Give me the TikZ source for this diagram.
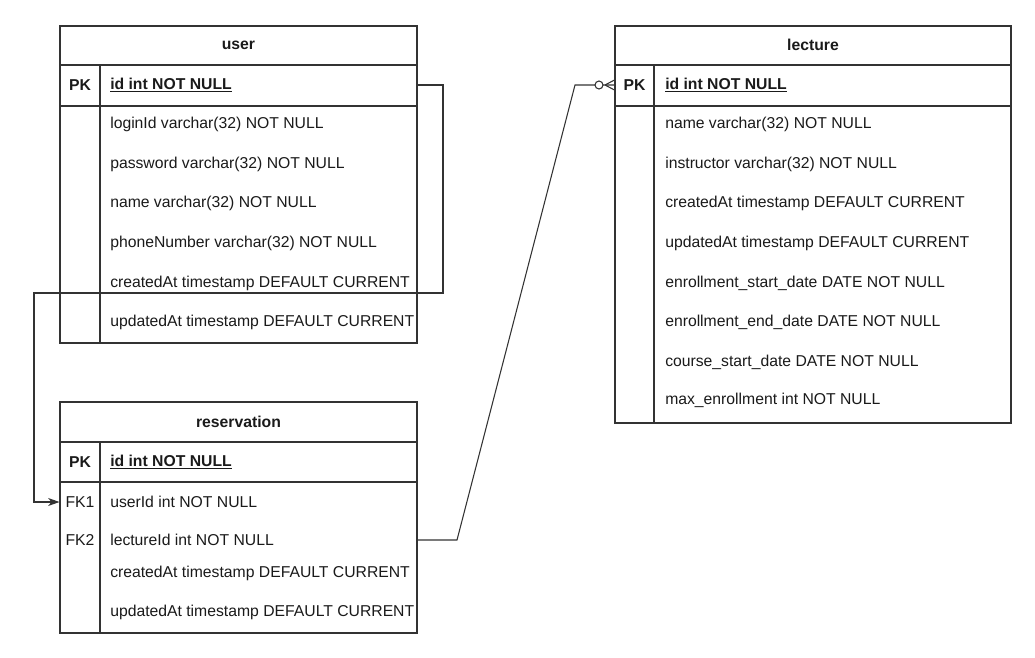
\documentclass[tikz,border=0pt]{standalone}
\usepackage{fontspec}
\setmainfont{Liberation Sans}
\usetikzlibrary{arrows.meta}
\definecolor{lc}{HTML}{333333}
\definecolor{tc}{HTML}{1A1A1A}
\begin{document}
\begin{tikzpicture}[x=0.75pt,y=-0.75pt,
  tbl/.style={draw=lc, line width=0.8pt, inner sep=0pt, fill=white},
  gridln/.style={draw=lc, line width=0.8pt},
  rowtxt/.style={anchor=west, inner sep=0pt, text=tc, font=\fontsize{11.8}{14}\selectfont},
  keytxt/.style={inner sep=0pt, text=tc, font=\fontsize{11.8}{14}\selectfont},
  hdr/.style={inner sep=0pt, text=tc, font=\bfseries\fontsize{11.8}{14}\selectfont},
  conn/.style={draw=lc, line width=0.8pt}
]
\useasboundingbox (0,0) rectangle (1035,657);

% ---------- user ----------
\node[tbl, minimum width=267.75pt, minimum height=237.75pt] (user) at (238.5,184.5) {};
\draw[gridln] (60,65) -- (417,65);
\draw[gridln] (60,106) -- (417,106);
\draw[gridln] (100,65) -- (100,343);
\node[hdr] (uhdr) at (238.5,45) {user};
\node[keytxt, font=\bfseries\fontsize{11.8}{14}\selectfont] (upk) at (80,85) {PK};
\node[rowtxt, font=\bfseries\fontsize{11.8}{14}\selectfont] (uid) at (110,85) {\underline{id int NOT NULL}};
\node[rowtxt] (u1) at (110,124) {loginId varchar(32) NOT NULL};
\node[rowtxt] (u2) at (110,164) {password varchar(32) NOT NULL};
\node[rowtxt] (u3) at (110,203) {name varchar(32) NOT NULL};
\node[rowtxt] (u4) at (110,243) {phoneNumber varchar(32) NOT NULL};
\node[rowtxt] (u5) at (110,283) {createdAt timestamp DEFAULT CURRENT};
\node[rowtxt] (u6) at (110,322) {updatedAt timestamp DEFAULT CURRENT};

% ---------- reservation ----------
\node[tbl, minimum width=267.75pt, minimum height=173.25pt] (res) at (238.5,517.5) {};
\draw[gridln] (60,442) -- (417,442);
\draw[gridln] (60,482) -- (417,482);
\draw[gridln] (100,442) -- (100,633);
\node[hdr] (rhdr) at (238.5,422) {reservation};
\node[keytxt, font=\bfseries\fontsize{11.8}{14}\selectfont] (rpk) at (80,462) {PK};
\node[rowtxt, font=\bfseries\fontsize{11.8}{14}\selectfont] (rid) at (110,462) {\underline{id int NOT NULL}};
\node[keytxt] (rfk1) at (80,502) {FK1};
\node[keytxt] (rfk2) at (80,540) {FK2};
\node[rowtxt] (r1) at (110,502) {userId int NOT NULL};
\node[rowtxt] (r2) at (110,540) {lectureId int NOT NULL};
\node[rowtxt] (r3) at (110,573) {createdAt timestamp DEFAULT CURRENT};
\node[rowtxt] (r4) at (110,612) {updatedAt timestamp DEFAULT CURRENT};

% ---------- lecture ----------
\node[tbl, minimum width=297pt, minimum height=297.75pt] (lec) at (813,224.5) {};
\draw[gridln] (615,65) -- (1011,65);
\draw[gridln] (615,106) -- (1011,106);
\draw[gridln] (654,65) -- (654,423);
\node[hdr] (lhdr) at (813,45) {lecture};
\node[keytxt, font=\bfseries\fontsize{11.8}{14}\selectfont] (lpk) at (634.5,85) {PK};
\node[rowtxt, font=\bfseries\fontsize{11.8}{14}\selectfont] (lid) at (665,85) {\underline{id int NOT NULL}};
\node[rowtxt] (l1) at (665,124) {name varchar(32) NOT NULL};
\node[rowtxt] (l2) at (665,164) {instructor varchar(32) NOT NULL};
\node[rowtxt] (l3) at (665,203) {createdAt timestamp DEFAULT CURRENT};
\node[rowtxt] (l4) at (665,243) {updatedAt timestamp DEFAULT CURRENT};
\node[rowtxt] (l5) at (665,283) {enrollment\_start\_date DATE NOT NULL};
\node[rowtxt] (l6) at (665,322) {enrollment\_end\_date DATE NOT NULL};
\node[rowtxt] (l7) at (665,362) {course\_start\_date DATE NOT NULL};
\node[rowtxt] (l8) at (665,400) {max\_enrollment int NOT NULL};

% ---------- connectors ----------
\coordinate (c1) at (443,293);
\coordinate (c2) at (34,293);
\draw[conn, -{Stealth[length=8.5pt,width=6pt,inset=2.5pt]}]
  (user.east |- upk) -| (c1) -- (c2) |- (res.west |- rfk1);

\coordinate (c3) at (457,540);
\coordinate (c4) at (575,85);
\coordinate (cf) at (605,85);
\draw[conn] (res.east |- rfk2) -- (c3) -- (c4) -- (lec.west |- lpk);
\draw[conn, fill=white] (599,85) circle[radius=4];
\draw[conn] (cf) -- ([yshift=3.75pt]lec.west |- lpk);
\draw[conn] (cf) -- ([yshift=-3.75pt]lec.west |- lpk);
\end{tikzpicture}
\end{document}
